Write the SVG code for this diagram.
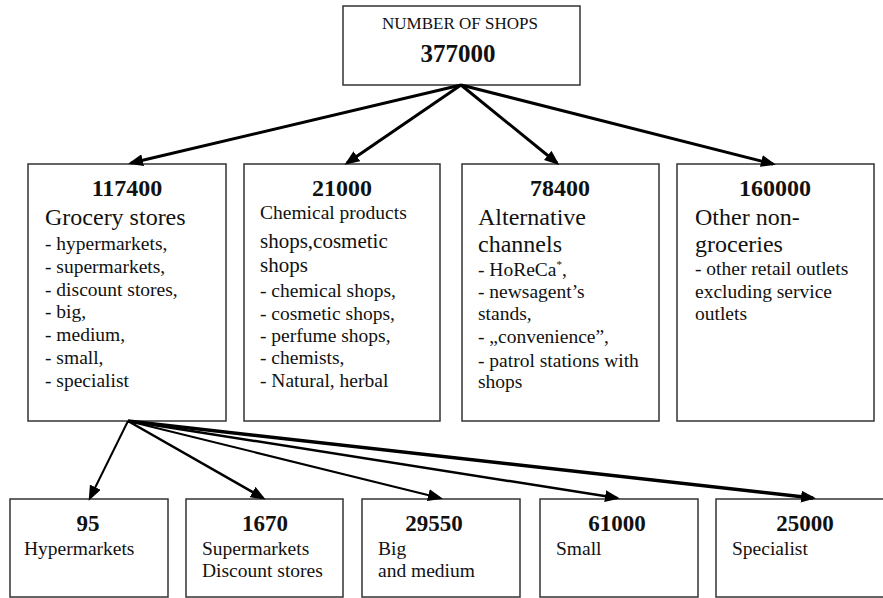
<svg xmlns="http://www.w3.org/2000/svg" width="883" height="598" viewBox="0 0 883 598">
<defs>
<marker id="ah" markerUnits="userSpaceOnUse" markerWidth="16" markerHeight="12" refX="12" refY="6" orient="auto" viewBox="0 0 16 12">
<path d="M0,0 L15,6 L0,12 z" fill="#000"/>
</marker>
<style>
rect{fill:#fff;stroke:#333;stroke-width:1.5}
text{font-family:"Liberation Serif","Times New Roman",serif;fill:#111}
.num{font-size:24px;font-weight:bold;text-anchor:middle}
.hd{font-size:24px}
.li{font-size:19.5px}
.bl{font-size:19.5px}
.title{font-size:17px;text-anchor:middle}
.c line{stroke:#000;fill:none;marker-end:url(#ah)}
</style>
</defs>
<rect x="0" y="0" width="883" height="598" style="fill:#fff;stroke:none"/>

<g id="root">
<rect x="343" y="6" width="237" height="79"/>
<text class="title" x="460" y="29">NUMBER OF SHOPS</text>
<text class="num" x="458" y="62" style="font-size:25px">377000</text>
</g>

<g id="grocery">
<rect x="28" y="164" width="198" height="257"/>
<text class="num" x="127" y="196">117400</text>
<text class="hd" x="45" y="225">Grocery stores</text>
<text class="li" x="45" y="250">- hypermarkets,</text>
<text class="li" x="45" y="273">- supermarkets,</text>
<text class="li" x="45" y="296">- discount stores,</text>
<text class="li" x="45" y="318">- big,</text>
<text class="li" x="45" y="341">- medium,</text>
<text class="li" x="45" y="364">- small,</text>
<text class="li" x="45" y="387">- specialist</text>
</g>

<g id="chemical">
<rect x="244" y="164" width="196" height="257"/>
<text class="num" x="342" y="196">21000</text>
<text class="li" x="260" y="219">Chemical products</text>
<text class="li" x="260" y="248" style="font-size:21px">shops,cosmetic</text>
<text class="li" x="260" y="272" style="font-size:21px">shops</text>
<text class="li" x="260" y="297">- chemical shops,</text>
<text class="li" x="260" y="320">- cosmetic shops,</text>
<text class="li" x="260" y="342">- perfume shops,</text>
<text class="li" x="260" y="364">- chemists,</text>
<text class="li" x="260" y="387">- Natural, herbal</text>
</g>

<g id="alternative">
<rect x="462" y="164" width="197" height="257"/>
<text class="num" x="560" y="196">78400</text>
<text class="hd" x="478" y="225">Alternative</text>
<text class="hd" x="478" y="252">channels</text>
<text class="li" x="478" y="276">- HoReCa<tspan dy="-8" style="font-size:11px">*</tspan><tspan dy="8">,</tspan></text>
<text class="li" x="478" y="298">- newsagent’s</text>
<text class="li" x="478" y="320">stands,</text>
<text class="li" x="478" y="343">- „convenience”,</text>
<text class="li" x="478" y="367">- patrol stations with</text>
<text class="li" x="478" y="388">shops</text>
</g>

<g id="nongrocery">
<rect x="677" y="164" width="197" height="257"/>
<text class="num" x="775" y="196">160000</text>
<text class="hd" x="695" y="225">Other non-</text>
<text class="hd" x="695" y="252">groceries</text>
<text class="li" x="695" y="275">- other retail outlets</text>
<text class="li" x="695" y="298">excluding service</text>
<text class="li" x="695" y="320">outlets</text>
</g>

<g id="hyper">
<rect x="10" y="499" width="158" height="98"/>
<text class="num" x="88" y="531" style="font-size:23px">95</text>
<text class="bl" x="24" y="555">Hypermarkets</text>
</g>

<g id="super">
<rect x="186" y="499" width="157" height="98"/>
<text class="num" x="265" y="531" style="font-size:23px">1670</text>
<text class="bl" x="202" y="555">Supermarkets</text>
<text class="bl" x="202" y="577">Discount stores</text>
</g>

<g id="bigmedium">
<rect x="362" y="499" width="158" height="98"/>
<text class="num" x="434" y="531" style="font-size:23px">29550</text>
<text class="bl" x="378" y="555">Big</text>
<text class="bl" x="378" y="577">and medium</text>
</g>

<g id="small">
<rect x="540" y="499" width="158" height="98"/>
<text class="num" x="617" y="531" style="font-size:23px">61000</text>
<text class="bl" x="556" y="555">Small</text>
</g>

<g id="specialist">
<rect x="716" y="499" width="180" height="98"/>
<text class="num" x="805" y="531" style="font-size:23px">25000</text>
<text class="bl" x="732" y="555">Specialist</text>
</g>

<g id="connectors" class="c">
<line x1="461" y1="85" x2="131" y2="163" stroke-width="3"/>
<line x1="461" y1="85" x2="347" y2="163" stroke-width="3"/>
<line x1="461" y1="85" x2="557" y2="163" stroke-width="3"/>
<line x1="461" y1="85" x2="773" y2="164" stroke-width="3"/>
<line x1="128" y1="421" x2="90" y2="498" stroke-width="2"/>
<line x1="128" y1="421" x2="263" y2="498" stroke-width="2.5"/>
<line x1="128" y1="421" x2="440" y2="498" stroke-width="2"/>
<line x1="128" y1="421" x2="617" y2="498" stroke-width="2.5"/>
<line x1="128" y1="421" x2="813" y2="498" stroke-width="3.5"/>
</g>
</svg>
